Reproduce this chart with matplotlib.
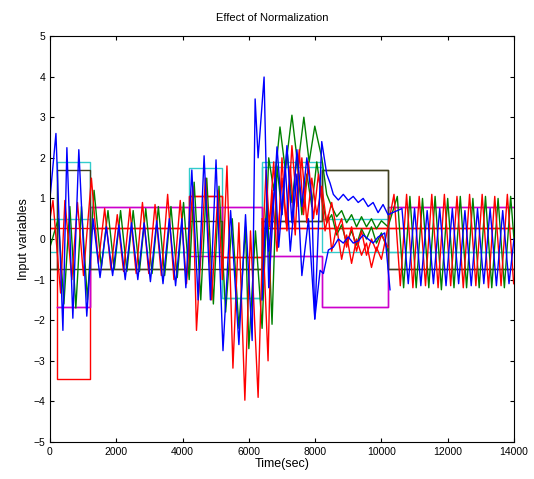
import numpy as np
import matplotlib
matplotlib.use("Agg")
import matplotlib.pyplot as plt

plt.rcParams['font.family'] = ['Liberation Sans', 'DejaVu Sans']

# segment edges (sec) for the normalization step lines
seg_edges = [0, 200, 1200, 4200, 5200, 6400, 8200, 10200, 14000]

# step levels per segment (nan = not drawn there)
cyan_hi = [-0.33, 1.9, -0.33, 1.75, -1.45, 1.9, 0.49, -0.33]
cyan_lo = [0.49, 0.49, -0.33, -0.33, -1.45, 1.77, -0.33, -0.33]
red_hi = [0.28, 0.28, 0.28, 1.05, -0.44, 0.28, 0.28, 0.28]
red_lo = [0.28, -3.45, 0.28, 1.05, -0.44, 0.28, 0.28, 0.28]
mag_hi = [np.nan, -1.67, 0.78, 0.78, 0.78, -0.42, -1.67, 0.78]
mag_lo = [np.nan, -1.67, 0.78, -0.42, 0.78, -0.42, -1.67, 0.78]
olive_hi = [-0.75, 1.7, -0.75, 0.44, -0.75, 0.44, 1.7, -0.75]
olive_lo = [-0.75, -0.75, -0.75, -0.75, -0.75, 0.44, 1.7, -0.75]

red_t = [0, 90, 320, 450, 660, 830, 1010, 1250,
         1460, 1650, 1840, 2030, 2220, 2410, 2600, 2790, 2980, 3170, 3360, 3550, 3740, 3930, 4120,
         4310, 4420, 4690, 4880, 5070, 5200, 5340,
         5520, 5700, 5880, 6050, 6280, 6400,
         6520, 6620, 6750, 6880, 7000, 7120, 7250, 7400, 7520, 7650, 7800, 7950, 8100, 8200,
         8300, 8400, 8500, 8650, 8800, 8950, 9100, 9250, 9400, 9550, 9700, 9850, 10000, 10150,
         10380, 10570, 10760, 10950, 11140, 11330, 11520, 11710, 11900, 12090, 12280, 12470,
         12660, 12850, 13040, 13230, 13420, 13610, 13800, 13990]
red_v = [0.5, 0.95, -1.33, 0.95, -1.0, 0.9, -0.9, 1.5,
         -0.6, 0.75, -0.75, 0.6, -0.8, 0.75, -0.85, 0.9, -0.85, 0.85, -0.9, 1.1, -1.0, 0.95, -1.1,
         1.3, -2.25, 1.5, -1.5, 1.2, -1.0, 1.8,
         -3.18, 0.4, -3.97, 0.2, -3.9, -0.5,
         1.7, 0.3, 1.9, -0.2, 2.0, 0.4, 1.8, 0.1, 2.2, 0.6, 1.9, 0.5, 1.6, 1.0,
         0.2, 0.6, -0.3, 0.3, -0.5, 0.1, -0.6, 0.0, -0.4, -0.1, -0.7, -0.2, -0.5, 0.1,
         1.1, -1.15, 1.1, -1.2, 1.05, -1.15, 1.1, -1.2, 1.1, -1.15, 1.05, -1.2,
         1.1, -1.15, 1.1, -1.2, 1.05, -1.15, 1.1, -1.1]

# second red input, only where it parts from the first
red2_t = [6400, 6480, 6580, 6700, 6850, 7000, 7150, 7300, 7450, 7600, 7750, 7900, 8050, 8200,
          8350, 8500, 8650, 8800, 8950, 9100, 9250, 9400, 9550, 9700, 9850, 10000, 10200]
red2_v = [0.5, -1.0, -3.0, 1.2, -0.3, 1.5, 0.2, 2.3, 0.8, 2.0, 0.4, 1.5, 0.6, 1.3,
          0.4, 0.9, 0.2, 0.5, -0.2, 0.3, -0.3, 0.2, -0.4, 0.0, -0.3, 0.1, -0.2]

green_t = [0, 250, 420, 600, 780, 950, 1130, 1330,
           1550, 1750, 1940, 2130, 2320, 2510, 2700, 2890, 3080, 3270, 3460, 3650, 3840, 4030,
           4200, 4350, 4550, 4730, 4930, 5100, 5300,
           5500, 5700, 5900, 6000, 6200, 6400,
           6600, 6750, 6940, 7100, 7300, 7480, 7660, 7820, 7990, 8200,
           8350, 8500, 8650, 8800, 8950, 9100, 9250, 9400, 9550, 9700, 9850, 10000, 10200,
           10480, 10670, 10860, 11050, 11240, 11430, 11620, 11810, 12000, 12190, 12380, 12570,
           12760, 12950, 13140, 13330, 13520, 13710, 13900, 14000]
green_v = [-0.2, 0.5, -1.6, 0.8, -1.7, 0.8, -1.5, 1.2,
           -0.7, 0.7, -0.75, 0.7, -0.8, 0.7, -0.8, 0.75, -0.85, 0.8, -0.9, 0.8, -0.95, 0.9,
           -1.0, 1.4, -1.5, 1.5, -1.6, 1.3, -1.8,
           0.5, -2.2, 0.3, -2.7, 0.2, -2.2,
           2.0, 1.2, 2.76, 1.7, 3.05, 1.8, 3.0, 1.9, 2.78, 2.0,
           1.1, 0.8, 0.55, 0.7, 0.4, 0.6, 0.3, 0.55, 0.3, 0.5, 0.25, 0.45, 0.3,
           1.05, -1.2, 1.05, -1.2, 1.0, -1.2, 1.05, -1.25, 1.0, -1.2, 1.05, -1.2,
           1.0, -1.2, 1.05, -1.2, 1.0, -1.2, 1.05, 0.0]

green2_t = [6400, 6550, 6700, 6850, 7000, 7150, 7300, 7450, 7600, 7750, 7900, 8050, 8200,
            8350, 8500, 8650, 8800, 8950, 9100, 9250, 9400, 9550, 9700, 9850, 10000, 10200]
green2_v = [-1.0, 1.0, -2.1, 1.8, 0.6, 2.2, 0.9, 2.0, 0.6, 1.6, 0.8, 1.9, 1.0,
            0.4, 0.6, 0.1, 0.35, -0.1, 0.2, -0.15, 0.25, 0.0, 0.3, -0.1, 0.15, -0.3]

blue_t = [0, 180, 390, 510, 690, 870, 1110, 1300,
          1510, 1700, 1890, 2080, 2270, 2460, 2650, 2840, 3030, 3220, 3410, 3600, 3790, 3980, 4100,
          4280, 4470, 4650, 4840, 5010, 5220,
          5450, 5700, 5900, 6100, 6190, 6280, 6460, 6600,
          6850, 7000, 7150, 7300, 7450, 7600, 7750, 7900, 7990, 8200,
          8350, 8450, 8550, 8700, 8850, 9000, 9150, 9300, 9450, 9600, 9750, 9900, 10050, 10200,
          10620, 10810, 11000, 11190, 11380, 11570, 11760, 11950, 12140, 12330, 12520,
          12710, 12900, 13090, 13280, 13470, 13660, 13850, 14000]
blue_v = [1.0, 2.6, -2.25, 2.25, -1.95, 2.2, -1.9, 0.5,
          -0.95, 0.3, -0.9, 0.35, -1.0, 0.4, -1.0, 0.4, -1.05, 0.45, -1.1, 0.5, -1.15, 0.5, -1.2,
          1.7, -1.5, 2.05, -1.5, 1.95, -2.75,
          0.7, -2.6, 0.6, -2.5, 3.45, 2.0, 3.99, -1.2,
          2.27, 0.6, 2.3, 0.4, 2.2, 0.8, 2.0, 1.0, -1.97, 2.4,
          1.6, 1.38, 1.1, 0.96, 1.1, 0.95, 1.05, 0.9, 1.0, 0.8, 0.9, 0.65, 0.85, 0.6,
          0.75, -1.1, 0.75, -1.15, 0.7, -1.1, 0.75, -1.15, 0.75, -1.1, 0.7,
          -1.15, 0.75, -1.1, 0.75, -1.15, 0.7, -1.1, 0.0]

blue2_t = [6400, 6500, 6600, 6800, 6900, 7100, 7250, 7450, 7600, 7800, 7990,
           8150, 8250, 8400, 8550, 8700, 8850, 9000, 9150, 9300, 9450, 9600, 9750, 9900, 10100, 10260]
blue2_v = [-1.5, 0.5, -0.3, 1.5, -0.2, 1.8, -0.3, 1.6, -0.9, 0.5, -1.97,
           -0.77, -0.85, -0.27, -0.2, 0.0, -0.1, 0.05, -0.1, -0.05, 0.1, 0.0, -0.1, 0.05, 0.15, -1.25]

fig = plt.figure(figsize=(5.34, 4.79), dpi=100)
ax = fig.add_axes([0.0936, 0.0772, 0.8689, 0.8476])

steps = [(cyan_hi, '#33cccc'), (cyan_lo, '#33cccc'),
         (red_hi, 'red'), (red_lo, 'red'),
         (mag_hi, '#cc00cc'), (mag_lo, '#cc00cc'),
         (olive_hi, '#404020'), (olive_lo, '#404020')]
for levels, col in steps:
    ax.step(seg_edges, levels + [levels[-1]], where='post', color=col, lw=1.0)

for tt, vv, col in [(green_t, green_v, 'green'), (green2_t, green2_v, 'green'),
                    (red_t, red_v, 'red'), (red2_t, red2_v, 'red'),
                    (blue_t, blue_v, 'blue'), (blue2_t, blue2_v, 'blue')]:
    ax.plot(tt, vv, color=col, lw=1.0, solid_joinstyle='round')

ax.set_xlim(0, 14000)
ax.set_ylim(-5, 5)
ax.set_xticks(np.arange(0, 14001, 2000))
ax.set_yticks(np.arange(-5, 6, 1))
ax.tick_params(direction='in', top=True, right=True, labelsize=7.5, length=3)
ax.set_title('Effect of Normalization', fontsize=8, x=0.48, pad=11)
ax.set_xlabel('Time(sec)', fontsize=9, labelpad=1)
ax.set_ylabel('Input variables', fontsize=9, labelpad=2)

fig.savefig('out.png', dpi=100)
